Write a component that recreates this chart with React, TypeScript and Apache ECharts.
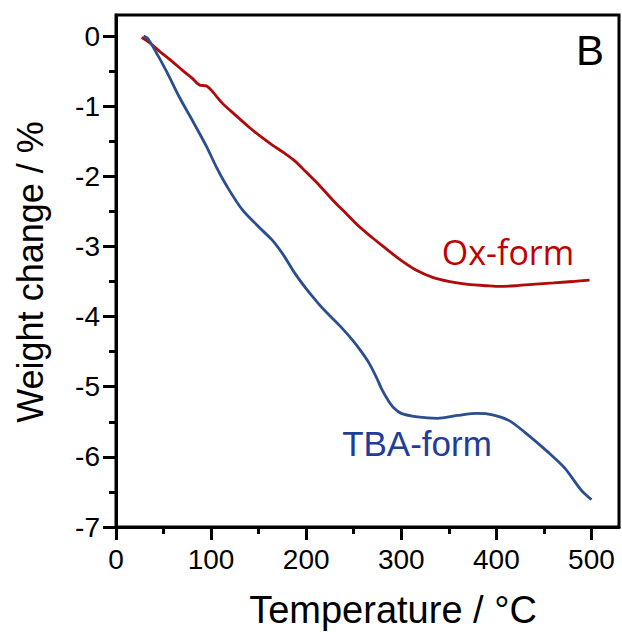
import React, { useEffect, useRef } from "react";
import * as echarts from "echarts";

const xTicks = [0, 100, 200, 300, 400, 500];
const xMinorTicks = [50, 150, 250, 350, 450];
const yTicks = [-7, -6, -5, -4, -3, -2, -1, 0];
const yMinorTicks = [-6.5, -5.5, -4.5, -3.5, -2.5, -1.5, -0.5];

const oxForm: [number, number][] = [
  [27, -0.02], [35, -0.09], [46, -0.22], [58, -0.35], [70, -0.49], [80, -0.6],
  [88, -0.7], [95, -0.71], [102, -0.8], [112, -0.96], [125, -1.12], [140, -1.3],
  [151, -1.42], [163, -1.54], [176, -1.66], [188, -1.78], [200, -1.94], [214, -2.13],
  [228, -2.34], [242, -2.53], [256, -2.72], [270, -2.88], [281, -3.0], [298, -3.18],
  [316, -3.34], [333, -3.44], [351, -3.5], [370, -3.54], [390, -3.56], [404, -3.57],
  [420, -3.56], [438, -3.54], [460, -3.52], [480, -3.5], [498, -3.48],
];

const tbaForm: [number, number][] = [
  [29, 0.0], [33, -0.03], [40, -0.18], [53, -0.5], [67, -0.88], [81, -1.22],
  [95, -1.57], [106, -1.88], [117, -2.15], [133, -2.48], [150, -2.72], [165, -2.92],
  [176, -3.12], [188, -3.38], [201, -3.62], [212, -3.8], [222, -3.95], [236, -4.14],
  [249, -4.34], [258, -4.5], [266, -4.66], [274, -4.87], [280, -5.05], [286, -5.19],
  [292, -5.3], [300, -5.38], [317, -5.43], [338, -5.45], [359, -5.41], [380, -5.38],
  [396, -5.4], [413, -5.48], [430, -5.65], [455, -5.94], [472, -6.16], [489, -6.47],
  [500, -6.61],
];

const FONT = "'Liberation Sans', Arial, sans-serif";

export default function App() {
  const ref = useRef<HTMLDivElement>(null);
  useEffect(() => {
    if (!ref.current) return;
    const chart = echarts.init(ref.current, null, { renderer: "svg" });
    const lineStyle = { color: "#000", width: 3 };
    const baseX = { type: "value" as const, min: 0, max: 529, gridIndex: 0, position: "bottom" as const };
    const baseY = { type: "value" as const, min: -7, max: 0.3, gridIndex: 0, position: "left" as const };
    chart.setOption({
      animation: false,
      backgroundColor: "#fff",
      grid: {
        left: 116, right: 3, top: 15, bottom: 105,
        show: true, borderColor: "#000", borderWidth: 3, backgroundColor: "transparent",
      },
      xAxis: [
        {
          ...baseX,
          axisLine: { show: true, onZero: false, lineStyle },
          axisTick: { show: true, inside: false, length: 13, lineStyle, customValues: xTicks },
          axisLabel: { show: true, customValues: xTicks, fontSize: 28, color: "#000", fontFamily: FONT, margin: 18 },
          splitLine: { show: false },
        },
        {
          ...baseX,
          axisLine: { show: false, onZero: false },
          axisTick: { show: true, inside: false, length: 7, lineStyle, customValues: xMinorTicks },
          axisLabel: { show: false },
          splitLine: { show: false },
        },
      ],
      yAxis: [
        {
          ...baseY,
          axisLine: { show: true, onZero: false, lineStyle },
          axisTick: { show: true, inside: false, length: 13, lineStyle, customValues: yTicks },
          axisLabel: { show: true, customValues: yTicks, fontSize: 28, color: "#000", fontFamily: FONT, margin: 16 },
          splitLine: { show: false },
        },
        {
          ...baseY,
          axisLine: { show: false, onZero: false },
          axisTick: { show: true, inside: false, length: 7, lineStyle, customValues: yMinorTicks },
          axisLabel: { show: false },
          splitLine: { show: false },
        },
      ],
      series: [
        {
          name: "Ox-form", type: "line", data: oxForm, xAxisIndex: 0, yAxisIndex: 0,
          showSymbol: false, smooth: 0.3, lineStyle: { color: "#B00A0A", width: 2.8 }, z: 3,
        },
        {
          name: "TBA-form", type: "line", data: tbaForm, xAxisIndex: 0, yAxisIndex: 0,
          showSymbol: false, smooth: 0.3, lineStyle: { color: "#2B4E8E", width: 2.8 }, z: 3,
        },
      ],
      graphic: [
        {
          type: "text", x: 30, y: 272, rotation: Math.PI / 2,
          style: { text: "Weight change / %", font: `36px ${FONT}`, fill: "#000", align: "center", verticalAlign: "middle", textAlign: "center", textVerticalAlign: "middle" },
        },
        {
          type: "text", x: 393, y: 610,
          style: { text: "Temperature / °C", font: `38px ${FONT}`, fill: "#000", align: "center", verticalAlign: "middle", textAlign: "center", textVerticalAlign: "middle" },
        },
        {
          type: "text", x: 590, y: 50,
          style: { text: "B", font: `42px ${FONT}`, fill: "#000", align: "center", verticalAlign: "middle", textAlign: "center", textVerticalAlign: "middle" },
        },
        {
          type: "text", x: 508, y: 252,
          style: { text: "Ox-form", font: `34px 'Open Sans', sans-serif`, fill: "#C00000", align: "center", verticalAlign: "middle", textAlign: "center", textVerticalAlign: "middle" },
        },
        {
          type: "text", x: 417, y: 443,
          style: { text: "TBA-form", font: `35px ${FONT}`, fill: "#1F3D99", align: "center", verticalAlign: "middle", textAlign: "center", textVerticalAlign: "middle" },
        },
      ],
    });
    return () => chart.dispose();
  }, []);
  return (
    <div
      ref={ref}
      style={{ position: "fixed", left: 0, top: 0, width: 622, height: 632, background: "#fff" }}
    />
  );
}
